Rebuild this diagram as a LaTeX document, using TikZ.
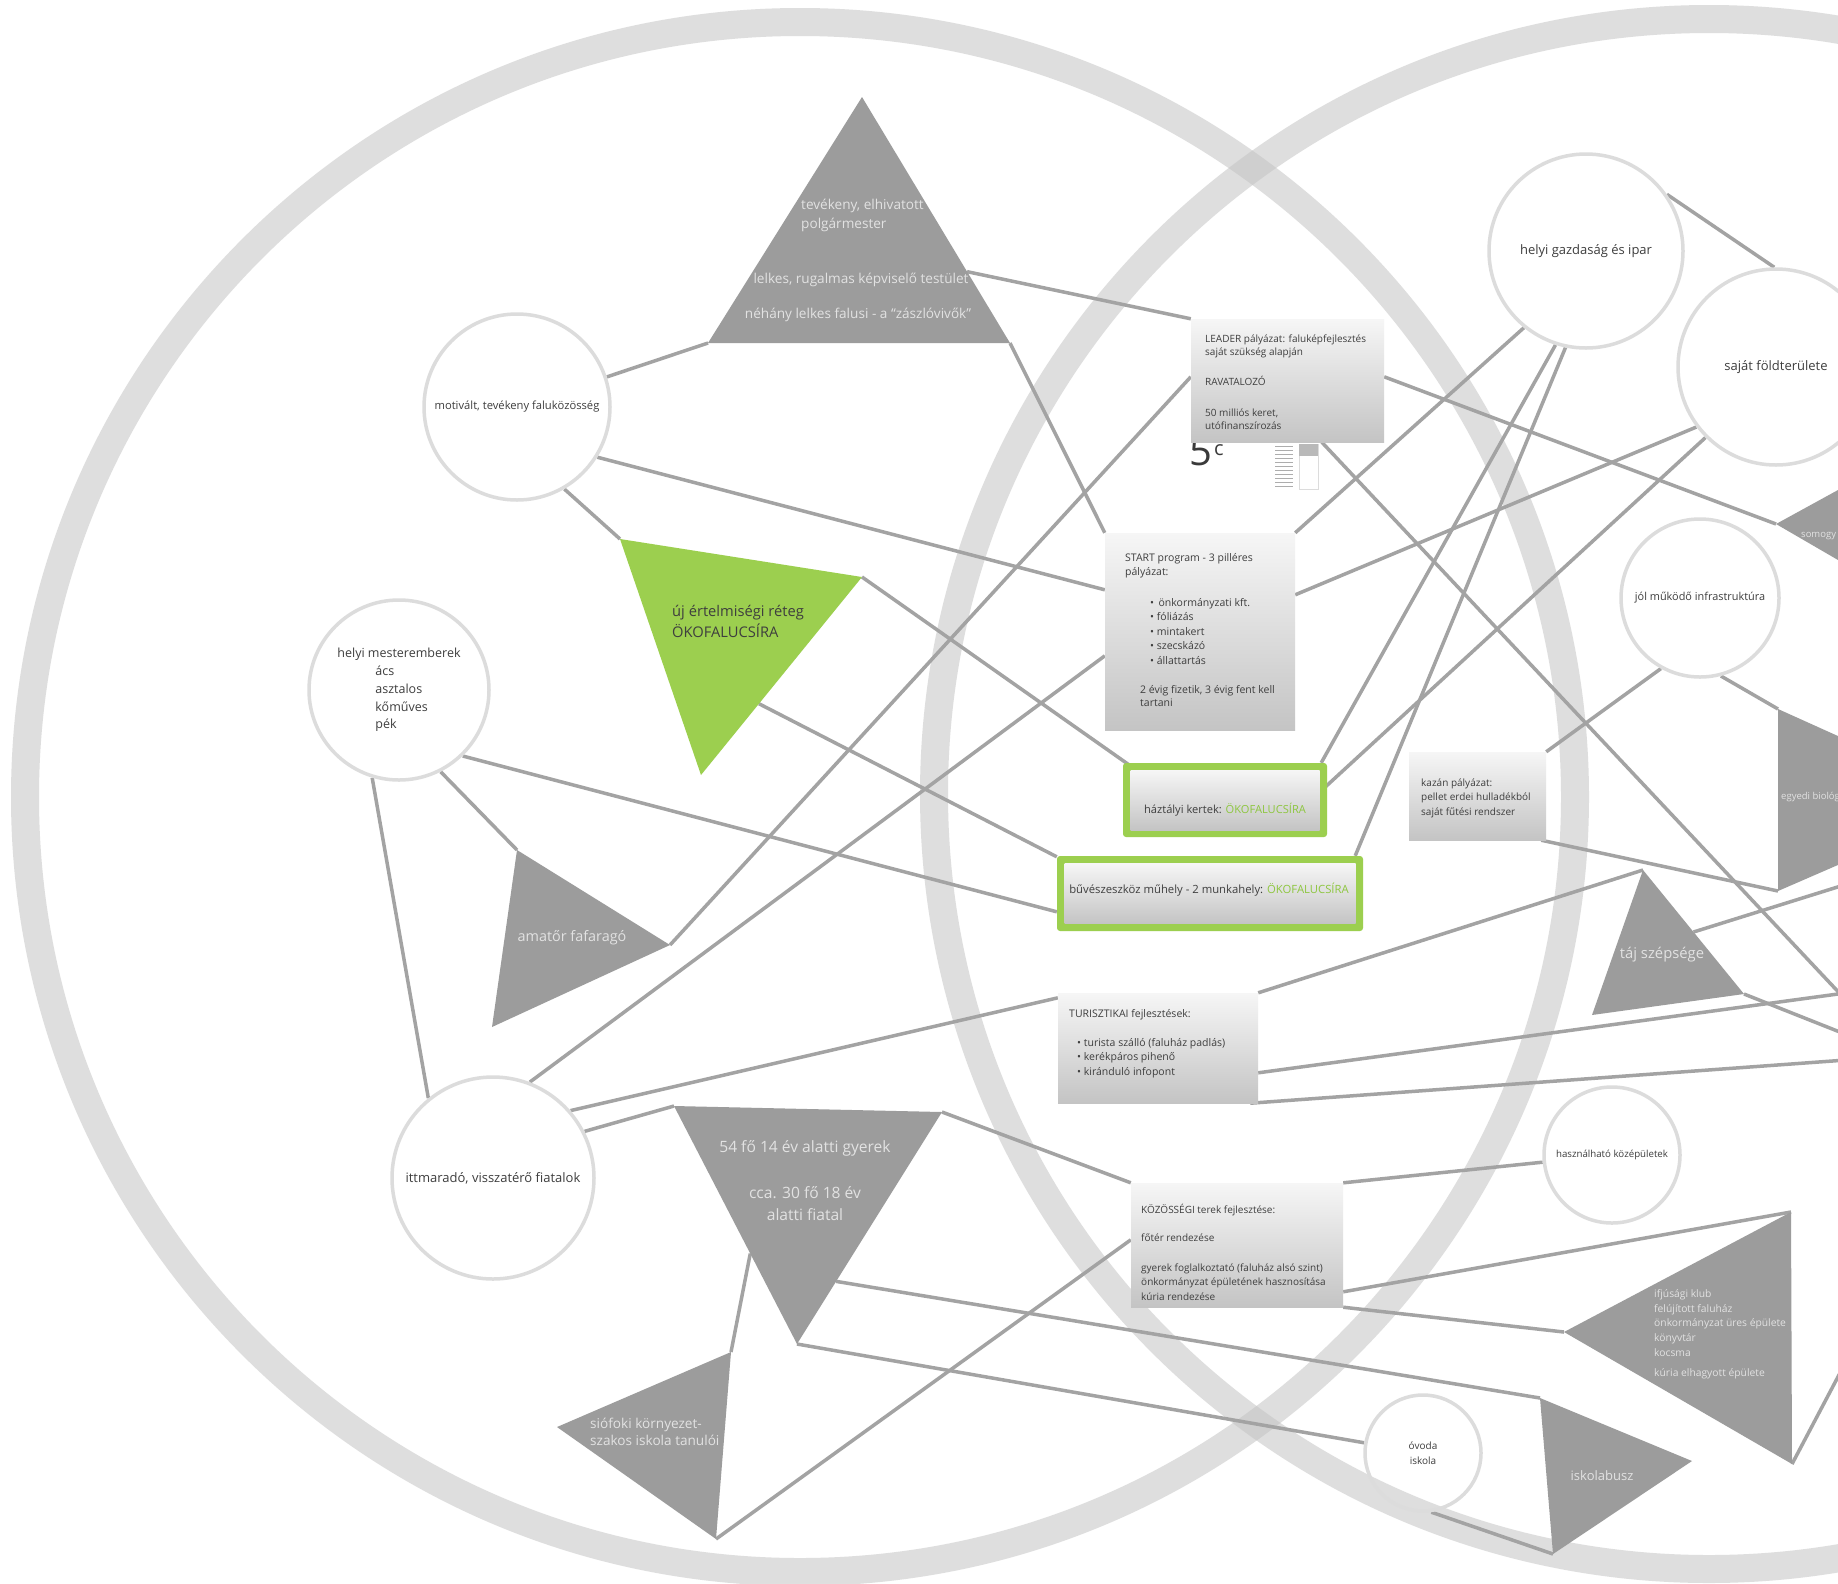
\documentclass[tikz,border=0pt]{standalone}
\usepackage{fontspec}
\setmainfont{Open Sans}
\usetikzlibrary{calc}
\pgfdeclarelayer{rings}
\pgfdeclarelayer{links}
\pgfsetlayers{rings,links,main}
\definecolor{ringc}{HTML}{C4C4C4}
\definecolor{tri}{HTML}{9C9C9C}
\definecolor{lncol}{HTML}{A3A3A3}
\definecolor{cedge}{HTML}{DCDCDC}
\definecolor{txt}{HTML}{3E3E3E}
\definecolor{trit}{HTML}{E2E2E2}
\definecolor{okogreen}{HTML}{9CCF4F}
\definecolor{okotext}{HTML}{8DC63F}
\definecolor{boxtop}{HTML}{F6F6F6}
\definecolor{boxbot}{HTML}{C4C4C4}
\definecolor{artc}{HTML}{8A8A8A}
\definecolor{artdark}{HTML}{3A3A3A}
\begin{document}
\begin{tikzpicture}[x=1pt,y=-1pt,
  ringst/.style={draw=ringc, line width=28, opacity=0.55},
  link/.style={draw=lncol, line width=3.5},
  trist/.style={fill=tri},
  circ/.style={circle, draw=cedge, line width=3.5, inner sep=0, minimum size=#1, text=txt, align=center},
  boxst/.style={rectangle, inner sep=0, top color=boxtop, bottom color=boxbot, draw=none},
  greenbox/.style={rectangle, inner sep=0, fill=okogreen, rounded corners=3},
  btxt/.style={inner sep=0, align=left, text=txt, anchor=base west},
  ttxt/.style={inner sep=0, align=center, text=trit},
]
\useasboundingbox (0,0) rectangle (1838,1583);
\clip (0,0) rectangle (1838,1583);

% ---------- big rings ----------
\begin{pgfonlayer}{rings}
\clip (0,0) rectangle (1838,1583);
\fill[white] (0,0) rectangle (1838,1583);
\draw[ringst] (800,797) circle [radius=775pt];
\draw[ringst] (1709,794) circle [radius=775pt];
\end{pgfonlayer}

% ---------- triangle vertices ----------
\coordinate (t1a) at (862,97);   \coordinate (t1bl) at (708,343);  \coordinate (t1br) at (1010,343);
\coordinate (t2tl) at (620,539); \coordinate (t2r) at (862,577);   \coordinate (t2b) at (701,775);
\coordinate (t3t) at (517,850);  \coordinate (t3r) at (670,945);   \coordinate (t3bl) at (492,1027);
\coordinate (t4tl) at (674,1106);\coordinate (t4tr) at (942,1112); \coordinate (t4b) at (797,1344);
\coordinate (t5tr) at (731,1352);\coordinate (t5l) at (557,1427);  \coordinate (t5b) at (716,1539);
\coordinate (t6t) at (1643,870); \coordinate (t6bl) at (1592,1015);\coordinate (t6br) at (1744,994);
\coordinate (t7l) at (1564,1332);\coordinate (t7tr) at (1791,1212);\coordinate (t7br) at (1792,1464);
\coordinate (t8tl) at (1540,1398);\coordinate (t8r) at (1692,1461);\coordinate (t8b) at (1553,1554);
\coordinate (t9l) at (1776,524); \coordinate (t9t) at (1900,456);  \coordinate (t9b) at (1900,596);
\coordinate (t10tl) at (1778,709);\coordinate (t10bl) at (1778,891);\coordinate (t10tr) at (1900,764);\coordinate (t10br) at (1900,838);
% free ends beyond the right edge
\coordinate (e1) at (1860,1015); \coordinate (e2) at (1860,991); \coordinate (e3) at (1860,1059);
\coordinate (e4) at (1860,880);  \coordinate (e5) at (1860,1040); \coordinate (e6) at (1860,1335);

% ---------- thumbnail remnant under the LEADER box ----------
\node[inner sep=0, anchor=base west, text=artdark, font=\fontsize{40}{40}\selectfont] (art5) at (1189,465) {5};
\node[inner sep=0, anchor=base west, text=artdark, font=\fontsize{20}{20}\selectfont] (artc) at (1214,455) {c};
\foreach \k in {0,...,10} \draw[artc!70, line width=1] (1275,446+4*\k) -- (1293,446+4*\k);
\draw[cedge, line width=1] (1299,444) rectangle (1318,489);
\fill[artc!60] (1299,444) rectangle (1318,456);

% ---------- triangles ----------
\fill[trist] (t1a) -- (t1bl) -- (t1br) -- cycle;
\fill[okogreen] (t2tl) -- (t2r) -- (t2b) -- cycle;
\fill[trist] (t3t) -- (t3r) -- (t3bl) -- cycle;
\fill[trist] (t4tl) -- (t4tr) -- (t4b) -- cycle;
\fill[trist] (t5tr) -- (t5l) -- (t5b) -- cycle;
\fill[trist] (t6t) -- (t6br) -- (t6bl) -- cycle;
\fill[trist] (t7l) -- (t7tr) -- (t7br) -- cycle;
\fill[trist] (t8tl) -- (t8r) -- (t8b) -- cycle;
\fill[trist] (t9l) -- (t9t) -- (t9b) -- cycle;
\fill[trist] (t10tl) -- (t10tr) -- (t10br) -- (t10bl) -- cycle;

% triangle texts (multi-line nodes: base = last line)
\node[ttxt, align=left, anchor=base west, font=\fontsize{13.6}{19}\selectfont] (t1x1) at (801,228) {tevékeny, elhivatott\\polgármester};
\node[ttxt, anchor=base, font=\fontsize{13.6}{19}\selectfont] (t1x2) at (861,283) {lelkes, rugalmas képviselő testület};
\node[ttxt, anchor=base, font=\fontsize{13.6}{19}\selectfont] (t1x3) at (858,318) {néhány lelkes falusi - a “zászlóvivők”};
\node[inner sep=0, align=left, anchor=base west, text=txt, font=\fontsize{14.7}{20.5}\selectfont] (t2x) at (672,637) {új értelmiségi réteg\\ÖKOFALUCSÍRA};
\node[ttxt, font=\fontsize{14.4}{16}\selectfont] (t3x) at (572,938) {amatőr fafaragó};
\node[ttxt, anchor=base, font=\fontsize{15.6}{22}\selectfont] (t4x1) at (805,1152) {54 fő 14 év alatti gyerek};
\node[ttxt, anchor=base, font=\fontsize{15.6}{22}\selectfont] (t4x2) at (805,1220) {cca. 30 fő 18 év\\alatti fiatal};
\node[ttxt, align=left, anchor=base west, font=\fontsize{13.6}{17}\selectfont] (t5x) at (590,1445) {siófoki környezet-\\szakos iskola tanulói};
\node[ttxt, font=\fontsize{14.8}{17}\selectfont] (t6x) at (1662,955) {táj szépsége};
\node[ttxt, align=left, anchor=base west, font=\fontsize{10.3}{14.7}\selectfont] (t7x) at (1654,1376) {ifjúsági klub\\felújított faluház\\önkormányzat üres épülete\\könyvtár\\kocsma\\[5pt]kúria elhagyott épülete};
\node[ttxt, font=\fontsize{13}{14}\selectfont] (t8x) at (1602,1476) {iskolabusz};
\node[ttxt, anchor=base west, font=\fontsize{9.5}{11}\selectfont] (t9x) at (1801,537) {somogy};
\node[ttxt, anchor=base west, font=\fontsize{9.5}{11}\selectfont] (t10x) at (1781,799) {egyedi biológ};

% ---------- circles ----------
\node[circ=186, font=\fontsize{11.2}{13}\selectfont] (c1) at (517,407) {motivált, tevékeny faluközösség};
\node[circ=180, align=left, font=\fontsize{12.5}{17.8}\selectfont] (c2) at (399,690) {helyi mesteremberek\\\hspace*{38pt}ács\\\hspace*{38pt}asztalos\\\hspace*{38pt}kőműves\\\hspace*{38pt}pék};
\node[circ=202, font=\fontsize{13}{15}\selectfont] (c3) at (493,1178) {ittmaradó, visszatérő fiatalok};
\node[circ=194, font=\fontsize{13}{15}\selectfont] (c4) at (1586,251) {helyi gazdaság és ipar};
\node[circ=196, font=\fontsize{13}{15}\selectfont] (c5) at (1776,367) {saját földterülete};
\node[circ=158, font=\fontsize{10.9}{12}\selectfont] (c6) at (1700,598) {jól működő infrastruktúra};
\node[circ=136, font=\fontsize{9.7}{11}\selectfont] (c7) at (1612,1155) {használható középületek};
\node[circ=116, font=\fontsize{10}{15}\selectfont] (c8) at (1423,1453) {óvoda\\iskola};

% ---------- boxes ----------
\node[boxst, minimum width=193, minimum height=123] (b1) at (1287.5,380.5) {};
\node[btxt, font=\fontsize{10}{13}\selectfont] (b1t) at (1205,429) {LEADER pályázat: faluképfejlesztés\\saját szükség alapján\\[17pt]RAVATALOZÓ\\[18pt]50 milliós keret,\\utófinanszírozás};

\node[boxst, minimum width=190, minimum height=197] (b2) at (1200,631.5) {};
\node[btxt, font=\fontsize{10.5}{14}\selectfont] (b2t1) at (1125,575) {START program - 3 pilléres\\pályázat:};
\node[btxt, font=\fontsize{10.5}{14.4}\selectfont] (b2t2) at (1150,664) {• \,önkormányzati kft.\\• fóliázás\\• mintakert\\• szecskázó\\• állattartás};
\node[btxt, font=\fontsize{10.5}{13.5}\selectfont] (b2t3) at (1140,706.5) {2 évig fizetik, 3 évig fent kell\\tartani};

\node[greenbox, minimum width=204, minimum height=74] (b3) at (1225,800) {};
\node[boxst, minimum width=189, minimum height=60] (b3i) at (1225,800) {};
\node[inner sep=0, text=txt, font=\fontsize{11.1}{12}\selectfont] (b3t) at (1225,810) {háztályi kertek: \textcolor{okotext}{ÖKOFALUCSÍRA}};

\node[greenbox, minimum width=306, minimum height=75] (b4) at (1210,893.5) {};
\node[boxst, minimum width=291, minimum height=60] (b4i) at (1210,893.5) {};
\node[inner sep=0, text=txt, font=\fontsize{11.3}{12}\selectfont] (b4t) at (1209,890) {bűvészeszköz műhely - 2 munkahely: \textcolor{okotext}{ÖKOFALUCSÍRA}};

\node[boxst, minimum width=200, minimum height=110] (b5) at (1158,1048) {};
\node[btxt, font=\fontsize{10.5}{14}\selectfont] (b5t1) at (1069,1017) {TURISZTIKAI fejlesztések:};
\node[btxt, font=\fontsize{10.5}{14.5}\selectfont] (b5t2) at (1077,1075) {• turista szálló (faluház padlás)\\• kerékpáros pihenő\\• kiránduló infopont};

\node[boxst, minimum width=212, minimum height=124] (b6) at (1237,1245) {};
\node[btxt, font=\fontsize{10}{14.5}\selectfont] (b6t) at (1141,1300) {KÖZÖSSÉGI terek fejlesztése:\\[13.5pt]főtér rendezése\\[15.5pt]gyerek foglalkoztató (faluház alsó szint)\\önkormányzat épületének hasznosítása\\kúria rendezése};

\node[boxst, minimum width=137, minimum height=88] (b7) at (1477.5,796) {};
\node[btxt, font=\fontsize{10}{14.5}\selectfont] (b7t) at (1421,815) {kazán pályázat:\\pellet erdei hulladékból\\saját fűtési rendszer};

% ---------- connectors ----------
\begin{pgfonlayer}{links}
\clip (0,0) rectangle (1838,1583);
\draw[link] ($(t1a)!0.71!(t1br)$) -- (b1.north west);
\draw[link] (c1) -- (t1bl);
\draw[link] (c1.328) -- ([yshift=-57]b2.north west);
\draw[link] (c1.300) -- (t2tl);
\draw[link] (t1br) -- (b2.north west);
\draw[link] (t2r) -- ([xshift=9,yshift=-4]b3.north west);
\draw[link] ($(t2r)!0.64!(t2b)$) -- ([yshift=-1]b4.north west);
\draw[link] (c2.314) -- ([yshift=-56]b4.north west);
\draw[link] (c2.297) -- (t3t);
\draw[link] (c2.253) -- (c3.129);
\draw[link] (t3r) -- ([yshift=-58]b1.north west);
\draw[link] (c3.69) -- ([yshift=-123]b2.north west);
\draw[link] (c3.41) -- ([yshift=-5]b5.north west);
\draw[link] (c3.27) -- (t4tl);
\draw[link] (t4tr) -- (b6.north west);
\draw[link] ($(t4tr)!0.73!(t4b)$) -- (t8tl);
\draw[link] (t4b) -- (c8);
\draw[link] (t5tr) -- ($(t4tl)!0.62!(t4b)$);
\draw[link] (t5b) -- ([yshift=-57]b6.north west);
\draw[link] (b6.north east) -- (c7);
\draw[link] ([yshift=-109]b6.north east) -- (t7tr);
\draw[link] (b6.south east) -- (t7l);
\draw[link] (b5.north east) -- (t6t);
\draw[link] ([yshift=-80]b5.north east) -- (e2);
\draw[link] ([xshift=-8]b5.south east) -- (e3);
\draw[link] ($(t6t)!0.5!(t6br)$) -- (e4);
\draw[link] (t6br) -- (e5);
\draw[link] ([yshift=-58]b1.north east) -- (t9l);
\draw[link] ([xshift=131]b1.south west) -- (e1);
\draw[link] (c4.231) -- (b2.north east);
\draw[link] (c4.252) -- ([xshift=-6]b3.north east);
\draw[link] (c4.258) -- ([xshift=-8]b4.north east);
\draw[link] (c4.35) -- (c5.91);
\draw[link] (c5.217) -- ([yshift=-62]b2.north east);
\draw[link] (c5.225) -- ([xshift=-5,yshift=-27]b3.north east);
\draw[link] (c6.241) -- (b7.north east);
\draw[link] (c6.285) -- (t10tl);
\draw[link] ([xshift=-5]b7.south east) -- (t10bl);
\draw[link] (t7br) -- (e6);
\draw[link] (c8.278) -- (t8b);
\end{pgfonlayer}
\end{tikzpicture}
\end{document}
